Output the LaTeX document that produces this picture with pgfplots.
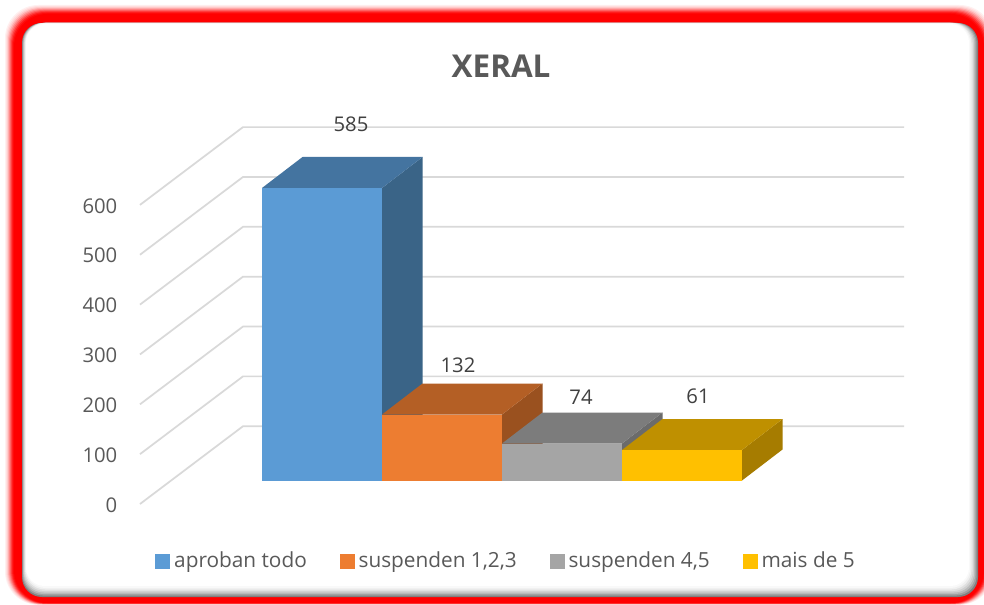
\documentclass[border=0pt]{standalone}
\usepackage{fontspec}
\setmainfont{Open Sans}
\usepackage{pgfplots}
\pgfplotsset{compat=1.18}
\definecolor{txt}{HTML}{595959}
\definecolor{lbl}{HTML}{404040}
\definecolor{gridc}{HTML}{D9D9D9}
\definecolor{c1}{HTML}{5B9BD5}
\definecolor{c1t}{HTML}{4474A0}
\definecolor{c1s}{HTML}{3A6487}
\definecolor{c2}{HTML}{ED7D31}
\definecolor{c2t}{HTML}{B45F25}
\definecolor{c2s}{HTML}{9A511F}
\definecolor{c3}{HTML}{A5A5A5}
\definecolor{c3t}{HTML}{7C7C7C}
\definecolor{c3s}{HTML}{6B6B6B}
\definecolor{c4}{HTML}{FFC000}
\definecolor{c4t}{HTML}{BF9000}
\definecolor{c4s}{HTML}{A67C00}
% 1 px = 0.75pt
\pgfplotsset{
  base/.style={
    scale only axis, width=573.75pt, clip=false,
    xmin=140, xmax=905,
    /pgf/number format/assume math mode=true,
    hide x axis,
  },
  face/.style={draw=none, fill=#1, forget plot},
  lab/.style 2 args={nodes near coords, point meta=y,
    every node near coord/.style={anchor=center, xshift=#1*0.75pt, yshift=#2*0.75pt,
      font=\fontsize{15.2}{18}\selectfont, text=lbl}},
  sq/.style={legend image code/.code={\fill[#1] (0pt,-5.25pt) rectangle (10.5pt,5.25pt);}},
}
\begin{document}
\begin{tikzpicture}
\begin{scope}[x=0.75pt,y=-0.75pt]
  \path[use as bounding box] (0,0) rectangle (984,605);
  % red glow
  \foreach \i/\p in {9/6,8/12,7/20,6/32,5/46,4/60,3/75,2/88,1/96,0/100}{
    \fill[red!\p!white, rounded corners=25pt] ({14-\i},{14-\i}) rectangle ({984+\i},{603+\i*0.2});
  }
  % panel with grey inner shadow on the right and bottom
  \fill[gray, rounded corners=15pt] (22,23) rectangle (978,597);
  \foreach \i/\p in {1/75,2/55,3/38,4/24,5/12,6/5}{
    \fill[gray!\p!white, rounded corners=15pt] ({22+\i*0.6},23) rectangle ({978-\i*1.3},{597-\i*1.5});
  }
  \fill[white, rounded corners=14pt] (26,24) rectangle (969,586);
  \coordinate (o1) at (140,504);
  \coordinate (o2) at (140,480.5);
\end{scope}
% wall, floor and value ticks
\begin{axis}[base, at={(o1)}, anchor=south west,
    height=303pt, ymin=0, ymax=810.4,
    axis y line=left, y axis line style={draw=none},
    ytick={0,100,200,300,400,500,600}, major tick length=0pt,
    y tick label style={font=\fontsize{15.2}{18}\selectfont, text=txt, anchor=east, xshift=-13.5pt, yshift=-0.75pt},
]
\pgfplotsinvokeforeach{0,100,200,300,400,500,600}{
  \addplot[gridc, line width=1.3pt, forget plot] coordinates {(140,#1) (243,#1+156) (904,#1+156)};
}
\end{axis}
% bars
\begin{axis}[base, at={(o2)}, anchor=south west,
    height=285.375pt, ymin=0, ymax=761, hide y axis,
    title={XERAL},
    title style={at={(0.472,1)}, anchor=center, yshift=19.5pt,
      font=\bfseries\fontsize{23.6}{28}\selectfont, text=txt},
    legend columns=4,
    legend style={at={(0.0196,-0.211)}, anchor=west, draw=none, fill=none, inner sep=0pt,
      font=\fontsize{15.6}{18}\selectfont, text=txt,
      /tikz/every even column/.append style={column sep=22.6pt},
      /tikz/every odd column/.append style={column sep=1.3pt}},
]
\addplot[face=c1s] coordinates {(382,0) (422.5,62) (422.5,647) (382,585)} -- cycle;
\addplot[face=c1t] coordinates {(262,585) (302.5,647) (422.5,647) (382,585)} -- cycle;
\addplot[ybar, bar width=90pt, bar shift=0pt, fill=c1, draw=none, forget plot, lab={29}{64}] coordinates {(322,585)};
\addplot[face=c2s] coordinates {(502,0) (542.5,62) (542.5,194) (502,132)} -- cycle;
\addplot[face=c2t] coordinates {(382,132) (422.5,194) (542.5,194) (502,132)} -- cycle;
\addplot[ybar, bar width=90pt, bar shift=0pt, fill=c2, draw=none, forget plot, lab={16}{49}] coordinates {(442,132)};
\addplot[face=c3s] coordinates {(622,0) (662.5,62) (662.5,136) (622,74)} -- cycle;
\addplot[face=c3t] coordinates {(502,74) (542.5,136) (662.5,136) (622,74)} -- cycle;
\addplot[ybar, bar width=90pt, bar shift=0pt, fill=c3, draw=none, forget plot, lab={19}{46}] coordinates {(562,74)};
\addplot[face=c4s] coordinates {(742,0) (782.5,62) (782.5,123) (742,61)} -- cycle;
\addplot[face=c4t] coordinates {(622,61) (662.5,123) (782.5,123) (742,61)} -- cycle;
\addplot[ybar, bar width=90pt, bar shift=0pt, fill=c4, draw=none, forget plot, lab={16}{54}] coordinates {(682,61)};
\addlegendimage{sq=c1}\addlegendentry{aproban todo}
\addlegendimage{sq=c2}\addlegendentry{suspenden 1,2,3}
\addlegendimage{sq=c3}\addlegendentry{suspenden 4,5}
\addlegendimage{sq=c4}\addlegendentry{mais de 5}
\end{axis}
\end{tikzpicture}
\end{document}
